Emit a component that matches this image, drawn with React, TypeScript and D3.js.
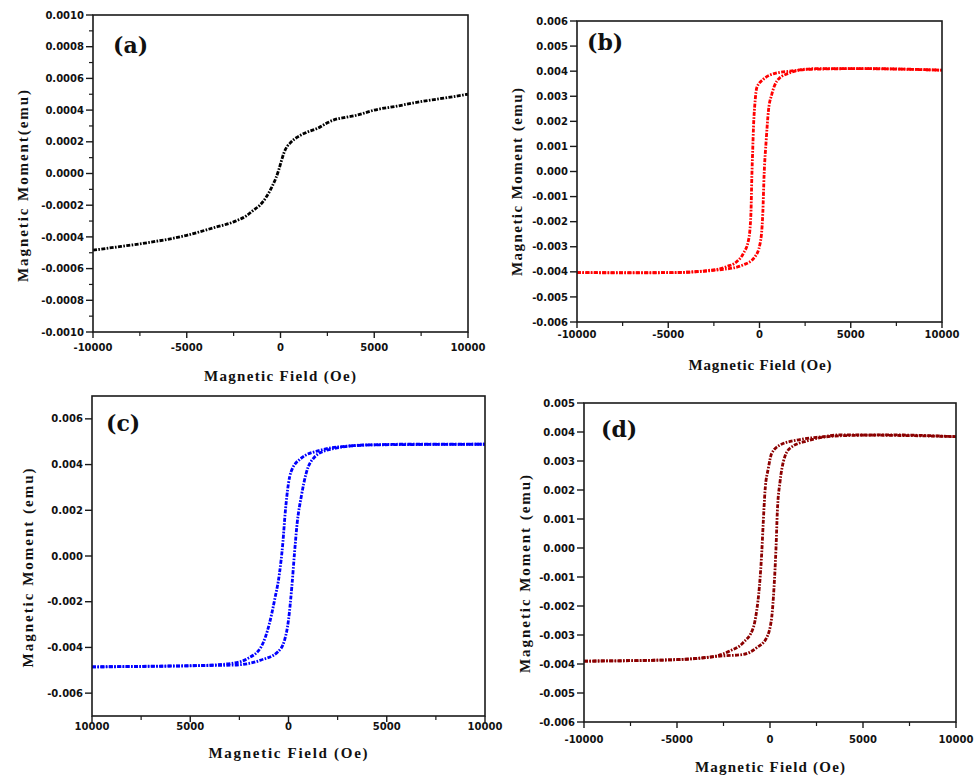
import * as d3 from "d3";

// ---- data (H in Oe, M in emu) ----
const fieldA = [-10000, -8500, -7000, -5000, -3500, -2500, -1800, -1450, -1100, -750, -400, -250, -100, 50, 170, 350, 500, 750, 1050, 1500, 1950, 2500, 2820, 3500, 4070, 5000, 6200, 7450, 8700, 10000];
const momentA = [-0.000484, -0.00046, -0.000435, -0.00039, -0.00034, -0.000305, -0.000265, -0.000232, -0.0002, -0.000147, -0.00007, -0.00003, 0.00002, 0.00008, 0.000126, 0.00017, 0.00019, 0.000218, 0.00024, 0.000265, 0.000284, 0.00032, 0.000337, 0.000355, 0.000368, 0.0004, 0.000425, 0.000453, 0.000475, 0.0005];

const fieldBDown = [-10000, -7000, -4710, -2880, -1790, -1240, -880, -600, -470, -420, -370, -330, -240, -150, 200, 950, 1680, 3000, 6000, 10000];
const momentBDown = [-0.00403, -0.00404, -0.00403, -0.00395, -0.00379, -0.00359, -0.00326, -0.00273, -0.00168, -0.00022, 0.0009, 0.00176, 0.00281, 0.00334, 0.00367, 0.00393, 0.004, 0.0041, 0.0041, 0.00404];
const fieldBUp = [-10000, -5000, -1970, -875, -240, 36, 180, 255, 365, 490, 675, 950, 1500, 2590, 5330, 10000];
const momentBUp = [-0.00403, -0.00403, -0.0039, -0.00372, -0.00339, -0.00286, -0.00168, -0.00009, 0.00123, 0.00242, 0.00308, 0.0036, 0.00389, 0.00407, 0.0041, 0.00404];

const fieldCDown = [-10000, -7000, -4440, -2920, -2070, -1390, -970, -710, -460, -290, -170, 0, 130, 650, 1500, 3200, 6000, 10000];
const momentCDown = [-0.00485, -0.00483, -0.00479, -0.0047, -0.00448, -0.00397, -0.00295, -0.00193, -0.00076, 0.00055, 0.00187, 0.00318, 0.00369, 0.00428, 0.0046, 0.00482, 0.00489, 0.00489];
const fieldCUp = [-10000, -5000, -2750, -1390, -540, -200, 0, 170, 305, 440, 650, 900, 1320, 2000, 4030, 10000];
const momentCUp = [-0.00485, -0.0048, -0.00477, -0.00455, -0.00419, -0.00368, -0.0028, -0.00134, 0.00012, 0.00143, 0.0026, 0.00362, 0.00432, 0.00464, 0.00486, 0.00489];

const fieldDDown = [-10000, -6100, -3410, -2150, -1435, -900, -720, -575, -450, -360, -270, -90, 90, 540, 1435, 2870, 3770, 7000, 10000];
const momentDDown = [-0.0039, -0.00387, -0.00378, -0.00355, -0.00326, -0.00275, -0.00218, -0.00137, -0.00023, 0.00092, 0.00195, 0.00275, 0.00326, 0.00355, 0.00372, 0.00384, 0.0039, 0.00388, 0.00384];
const fieldDUp = [-10000, -5000, -2510, -1435, -720, -180, 90, 215, 323, 395, 540, 720, 1075, 1970, 3770, 6460, 10000];
const momentDUp = [-0.0039, -0.00385, -0.00372, -0.00367, -0.00344, -0.00309, -0.0024, -0.00137, 0, 0.00126, 0.00229, 0.00298, 0.00344, 0.00369, 0.00387, 0.0039, 0.00384];

// ---- tick values ----
const fieldTicks = [-10000, -5000, 0, 5000, 10000];
const fieldMinor = [-7500, -2500, 2500, 7500];
const ticksA = [-0.001, -0.0008, -0.0006, -0.0004, -0.0002, 0, 0.0002, 0.0004, 0.0006, 0.0008, 0.001];
const minorA = [-0.0009, -0.0007, -0.0005, -0.0003, -0.0001, 0.0001, 0.0003, 0.0005, 0.0007, 0.0009];
const ticksB = [-0.006, -0.005, -0.004, -0.003, -0.002, -0.001, 0, 0.001, 0.002, 0.003, 0.004, 0.005, 0.006];
const ticksC = [-0.006, -0.004, -0.002, 0, 0.002, 0.004, 0.006];
const ticksD = [-0.006, -0.005, -0.004, -0.003, -0.002, -0.001, 0, 0.001, 0.002, 0.003, 0.004, 0.005];

const zip = (xs: number[], ys: number[]) => xs.map((x, i) => [x, ys[i]] as [number, number]);

const plain = (v: number) => String(v);
const absField = (v: number) => String(Math.abs(v));

const panels = [
  {
    letter: "(a)", lx: 113, ly: 53,
    box: { l: 93, t: 15, r: 468, b: 332 },
    yDomain: [-0.001, 0.001], yTicks: ticksA, yMinor: minorA, yDigits: 4,
    xFmt: plain, xLabelDy: 19,
    color: "#000000",
    branches: [zip(fieldA, momentA)],
    xTitle: "Magnetic Field (Oe)", xtX: 280, xtY: 381, xtLen: 152,
    yTitle: "Magnetic Moment(emu)", ytX: 28, ytY: 186, ytLen: 192,
  },
  {
    letter: "(b)", lx: 587, ly: 50,
    box: { l: 577, t: 21, r: 942, b: 322 },
    yDomain: [-0.006, 0.006], yTicks: ticksB, yMinor: [] as number[], yDigits: 3,
    xFmt: plain, xLabelDy: 16,
    color: "#ff0000",
    branches: [zip(fieldBDown, momentBDown), zip(fieldBUp, momentBUp)],
    xTitle: "Magnetic Field (Oe)", xtX: 760, xtY: 370, xtLen: 143,
    yTitle: "Magnetic Moment (emu)", ytX: 522, ytY: 182, ytLen: 188,
  },
  {
    letter: "(c)", lx: 106, ly: 431,
    box: { l: 92, t: 396, r: 485, b: 716 },
    yDomain: [-0.007, 0.007], yTicks: ticksC, yMinor: [] as number[], yDigits: 3,
    xFmt: absField, xLabelDy: 14,
    color: "#0000ff",
    branches: [zip(fieldCDown, momentCDown), zip(fieldCUp, momentCUp)],
    xTitle: "Magnetic Field (Oe)", xtX: 288, xtY: 758, xtLen: 159,
    yTitle: "Magnetic Moment (emu)", ytX: 33, ytY: 568, ytLen: 199,
  },
  {
    letter: "(d)", lx: 601, ly: 437,
    box: { l: 584, t: 403, r: 956, b: 722 },
    yDomain: [-0.006, 0.005], yTicks: ticksD, yMinor: [] as number[], yDigits: 3,
    xFmt: plain, xLabelDy: 21,
    color: "#8b0000",
    branches: [zip(fieldDDown, momentDDown), zip(fieldDUp, momentDUp)],
    xTitle: "Magnetic Field (Oe)", xtX: 770, xtY: 772, xtLen: 150,
    yTitle: "Magnetic Moment (emu)", ytX: 530, ytY: 574, ytLen: 198,
  },
];

const tickFont = "'DejaVu Sans', sans-serif";
const titleFont = "'Liberation Serif', 'Times New Roman', serif";
const letterFont = "'DejaVu Serif', serif";

function Panel({ p }: { p: (typeof panels)[number] }) {
  const { l, t, r, b } = p.box;
  const x = d3.scaleLinear().domain([-10000, 10000]).range([l, r]);
  const y = d3.scaleLinear().domain(p.yDomain).range([b, t]);
  const line = d3
    .line<[number, number]>()
    .x((d) => x(d[0]))
    .y((d) => y(d[1]))
    .curve(d3.curveMonotoneX);

  return (
    <g>
      {p.branches.map((br, i) => (
        <path
          key={i}
          d={line(br) || ""}
          fill="none"
          stroke={p.color}
          strokeWidth={2.8}
          strokeDasharray="4 1.4 1.6 1.4"
        />
      ))}

      {/* frame */}
      <rect x={l} y={t} width={r - l} height={b - t} fill="none" stroke="#1a1a1a" strokeWidth={1.6} />

      {/* y ticks */}
      {p.yTicks.map((v) => (
        <g key={"y" + v}>
          <line x1={l - 7} x2={l} y1={y(v)} y2={y(v)} stroke="#1a1a1a" strokeWidth={1.4} />
          <text
            x={l - 9}
            y={y(v) + 3.6}
            textAnchor="end"
            fontFamily={tickFont}
            fontWeight="bold"
            fontSize={10}
            fill="#111"
          >
            {v.toFixed(p.yDigits)}
          </text>
        </g>
      ))}
      {p.yMinor.map((v) => (
        <line key={"ym" + v} x1={l - 4} x2={l} y1={y(v)} y2={y(v)} stroke="#1a1a1a" strokeWidth={1.2} />
      ))}

      {/* x ticks */}
      {fieldTicks.map((v) => (
        <g key={"x" + v}>
          <line x1={x(v)} x2={x(v)} y1={b} y2={b + 6} stroke="#1a1a1a" strokeWidth={1.4} />
          <text
            x={x(v)}
            y={b + p.xLabelDy}
            textAnchor="middle"
            fontFamily={tickFont}
            fontWeight="bold"
            fontSize={10}
            fill="#111"
          >
            {p.xFmt(v)}
          </text>
        </g>
      ))}
      {fieldMinor.map((v) => (
        <line key={"xm" + v} x1={x(v)} x2={x(v)} y1={b} y2={b + 4} stroke="#1a1a1a" strokeWidth={1.2} />
      ))}

      {/* titles */}
      <text
        x={p.xtX}
        y={p.xtY}
        textAnchor="middle"
        fontFamily={titleFont}
        fontWeight="bold"
        fontSize={15}
        textLength={p.xtLen}
        lengthAdjust="spacing"
        fill="#111"
      >
        {p.xTitle}
      </text>
      <text
        transform={`translate(${p.ytX},${p.ytY}) rotate(-90)`}
        textAnchor="middle"
        fontFamily={titleFont}
        fontWeight="bold"
        fontSize={15}
        textLength={p.ytLen}
        lengthAdjust="spacing"
        fill="#111"
      >
        {p.yTitle}
      </text>
      <text x={p.lx} y={p.ly} fontFamily={letterFont} fontWeight="bold" fontSize={22} fill="#111">
        {p.letter}
      </text>
    </g>
  );
}

export default function App() {
  return (
    <svg
      width={974}
      height={776}
      viewBox="0 0 974 776"
      style={{ position: "absolute", left: 0, top: 0, background: "#fff" }}
    >
      <rect width={974} height={776} fill="#fff" />
      {panels.map((p) => (
        <Panel key={p.letter} p={p} />
      ))}
    </svg>
  );
}
